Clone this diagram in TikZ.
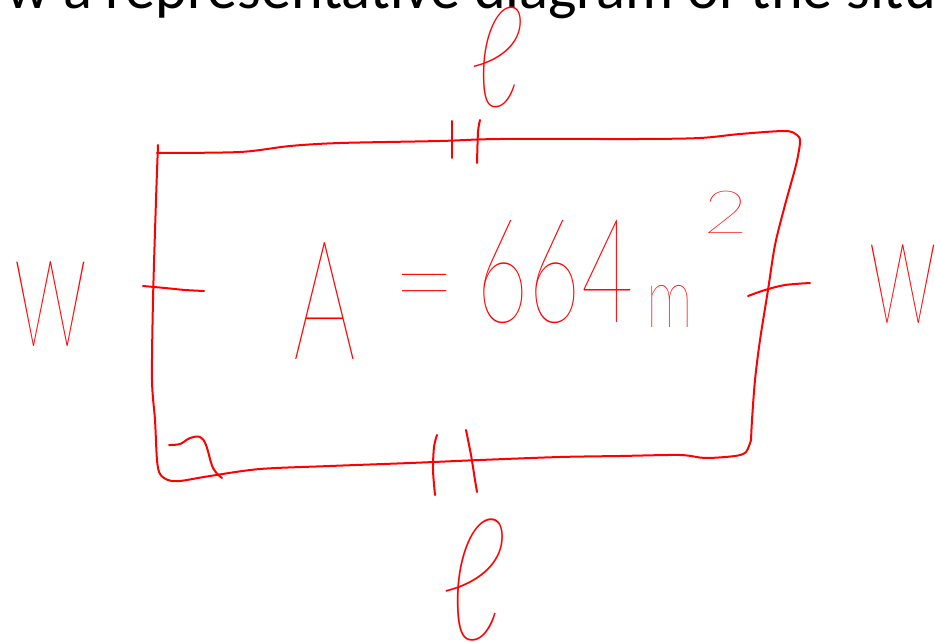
\documentclass[tikz,border=0pt]{standalone}
\usepackage{fontspec}
\setmainfont{Carlito}
\newfontfamily\handfont{Lato Hairline}
\newfontfamily\loopfont{DejaVu Sans}
\newcommand\handell{\iffontchar\font"2113 ℓ\else{\loopfont ℓ}\fi}
\begin{document}
\begin{tikzpicture}[x=0.2mm, y=-0.2mm,
    pen/.style={red, line width=0.4mm, line cap=round, line join=round},
    ink/.style={red, inner sep=0pt, font=\handfont},
    heading/.style={inner sep=0pt, font=\fontsize{34.3}{34.3}\selectfont}
  ]
  \clip (0,0) rectangle (935,642);
  \node[heading, anchor=base west] (head) at (6,9) {w a representative diagram of the situ};

  % sketched rectangle
  \draw[pen] plot[smooth, tension=.5] coordinates {(158,145) (156,200) (153,300) (152,380) (155,420) (157,460) (160,474) (168,480) (180,481) (210,476) (260,469) (330,466) (410,463) (480,460) (560,457) (620,456) (680,455) (705,458) (735,456) (746,452) (751,440)};
  \draw[pen] plot[smooth, tension=.5] coordinates {(751,440) (752,420) (755,380) (760,340) (768,290) (775,245) (785,205) (796,165) (800,142) (797,135) (785,131) (740,134) (700,138) (640,139) (500,139) (440,141) (340,143) (290,146) (240,152) (157,153)};

  % equal-length ticks
  \draw[pen] (452,121) -- (452,158);
  \draw[pen] plot[smooth] coordinates {(480,120) (478,132) (477,163)};
  \draw[pen] plot[smooth] coordinates {(437,435) (434,447) (433,470) (435,495)};
  \draw[pen] plot[smooth] coordinates {(466,430) (471,455) (475,480) (477,492)};
  \draw[pen] plot[smooth] coordinates {(143,286) (165,288) (185,290) (204,291)};
  \draw[pen] plot[smooth] coordinates {(748,296) (765,290) (785,285) (810,283)};

  % right angle
  \draw[pen] plot[smooth, tension=.6] coordinates {(169,445) (180,444) (190,438) (200,437) (206,445) (213,468) (222,478)};

  % labels
  \node[ink, font=\handfont\fontsize{80}{80}\selectfont] (ltop) at (497,57) {\scalebox{0.85}[1]{\handell}};
  \node[ink, font=\handfont\fontsize{97}{97}\selectfont] (lbot) at (474,580) {\scalebox{0.85}[1]{\handell}};
  \node[ink, anchor=south, font=\handfont\fontsize{98}{98}\selectfont] (wleft) at (51,347) {\scalebox{0.58}[1]{w}};
  \node[ink, anchor=south west, font=\handfont\fontsize{91}{91}\selectfont] (wright) at (868,324) {\scalebox{0.58}[1]{w}};

  \node[ink, anchor=south, font=\handfont\fontsize{95}{95}\selectfont] (area) at (325,360) {\scalebox{0.59}[1]{A}};
  \node[ink, font=\handfont\fontsize{63}{63}\selectfont] (eq) at (425,297) {=};
  \node[ink, font=\handfont\fontsize{83}{83}\selectfont] (num) at (555,272) {\scalebox{0.62}[1]{664}};
  \node[ink, anchor=south, font=\handfont\fontsize{48}{48}\selectfont] (unit) at (670,328) {\scalebox{0.7}[1]{m}};
  \node[ink, font=\handfont\fontsize{34}{34}\selectfont] (sq) at (726,212) {\scalebox{1.3}[1]{2}};
\end{tikzpicture}
\end{document}
